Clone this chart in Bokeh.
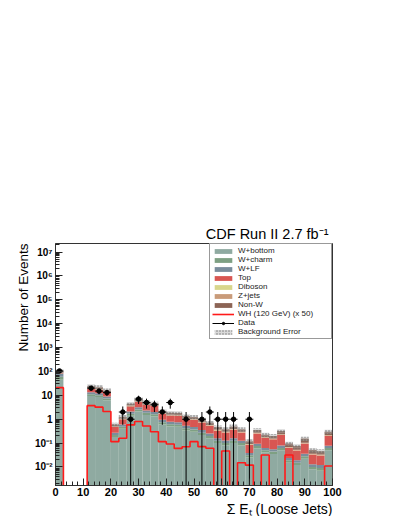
import numpy as np
from bokeh.plotting import figure
from bokeh.models import (ColumnDataSource, FixedTicker, CustomJSTickFormatter, Title,
                          Legend, LegendItem, Range1d)
from bokeh.embed import file_html
from bokeh.resources import INLINE

# ---------------- data ----------------
x_min, x_max, n_bins = 0.0, 100.0, 35

w_bottom = [45, 0, 0, 0, 9.4, 8.5, 6.2, 0.18, 0.4, 1.4, 2.1, 1.5, 1.3, 0.6, 0.5, 0.48, 0.34, 0.3,
            0.22, 0.16, 0.1, 0.08, 0.1, 0.08, 0.025, 0.06, 0.04, 0.035, 0.05, 0.015, 0.012, 0.022,
            0.008, 0.007, 0.05]
w_charm = [15, 0, 0, 0, 1.6, 1.5, 1.1, 0.04, 0.08, 0.3, 0.45, 0.35, 0.3, 0.14, 0.12, 0.11, 0.08, 0.07,
           0.05, 0.04, 0.025, 0.02, 0.025, 0.02, 0.006, 0.015, 0.01, 0.009, 0.013, 0.004, 0.003, 0.006,
           0.002, 0.002, 0.012]
w_lf = [20, 0, 0, 0, 2.5, 2.3, 1.7, 0.05, 0.12, 0.4, 0.6, 0.45, 0.4, 0.2, 0.16, 0.15, 0.11, 0.1,
        0.08, 0.05, 0.035, 0.03, 0.035, 0.025, 0.008, 0.02, 0.013, 0.011, 0.017, 0.005, 0.004, 0.008,
        0.003, 0.003, 0.016]
top = [4, 0, 0, 0, 5.0, 4.8, 3.5, 0.2, 0.4, 1.4, 2.2, 1.7, 1.6, 0.75, 0.65, 0.65, 0.5, 0.47,
       0.38, 0.28, 0.18, 0.15, 0.2, 0.15, 0.045, 0.16, 0.1, 0.09, 0.14, 0.04, 0.03, 0.06,
       0.02, 0.018, 0.12]
diboson = [1, 0, 0, 0, 0.5, 0.5, 0.35, 0.01, 0.03, 0.1, 0.15, 0.12, 0.1, 0.05, 0.04, 0.04, 0.03, 0.03,
           0.02, 0.015, 0.01, 0.008, 0.01, 0.008, 0.003, 0.005, 0.004, 0.003, 0.005, 0.002, 0.001, 0.002,
           0.001, 0.001, 0.006]
z_jets = [3, 0, 0, 0, 1.0, 0.9, 0.65, 0.02, 0.05, 0.2, 0.3, 0.2, 0.2, 0.1, 0.08, 0.07, 0.05, 0.05,
          0.04, 0.03, 0.02, 0.015, 0.02, 0.015, 0.005, 0.01, 0.008, 0.007, 0.01, 0.003, 0.003, 0.005,
          0.002, 0.002, 0.012]
non_w = [17, 0, 0, 0, 4.0, 3.5, 2.5, 0.1, 0.17, 0.6, 0.9, 0.7, 0.6, 0.31, 0.3, 0.3, 0.24, 0.23,
         0.18, 0.135, 0.09, 0.077, 0.11, 0.082, 0.028, 0.08, 0.05, 0.045, 0.085, 0.027, 0.022, 0.052,
         0.015, 0.013, 0.084]
wh_signal_x50 = [21, 0, 0, 0, 3.7, 3.2, 2.1, 0.115, 0.16, 0.58, 0.8, 0.52, 0.3, 0.115, 0.092, 0.06, 0.07,
                 0.115, 0.071, 0.061, 0, 0.047, 0, 0.015, 0.012, 0, 0.032, 0, 0, 0.032, 0, 0, 0, 0, 0.011]
data_counts = [105, 0, 0, 0, 20, 15, 13, 0, 2, 1, 7, 5, 4, 2, 5, 0, 1, 0, 1, 2, 1, 1, 1, 0, 1,
               0, 0, 0, 0, 0, 0, 0, 0, 0, 0]
bkg_rel_err = 0.2

bkg_names = ["W+bottom", "W+charm", "W+LF", "Top", "Diboson", "Z+jets", "Non-W"]
bkg_values = [w_bottom, w_charm, w_lf, top, diboson, z_jets, non_w]
bkg_colors = ["#8faaa1", "#7ea083", "#7a8d9c", "#d85652", "#d8d68c", "#c99b7a", "#8c6455"]

x_tick_values = [0, 10, 20, 30, 40, 50, 60, 70, 80, 90, 100]
y_tick_values = [1e-2, 1e-1, 1, 10, 1e2, 1e3, 1e4, 1e5, 1e6, 1e7]

title_text = "CDF Run II  2.7 fb\u207b\u00b9"
x_title = "\u03a3 E\u209c (Loose Jets)"
y_title = "Number of Events"

# ---------------- derived ----------------
edges = np.linspace(x_min, x_max, n_bins + 1)
left, right = edges[:-1], edges[1:]
centers = 0.5 * (left + right)
TINY = 1e-9
FONT = "Liberation Sans"

p = figure(width=399, height=516, x_range=Range1d(0, 100), y_range=Range1d(0.00168, 2.27e7),
           y_axis_type="log", output_backend="svg", toolbar_location=None,
           min_border_left=55, min_border_right=67, min_border_top=243, min_border_bottom=31)
p.background_fill_color = "white"
p.border_fill_color = "white"
p.outline_line_color = "#333333"
p.outline_line_width = 1
p.xgrid.grid_line_color = None
p.ygrid.grid_line_color = None

cum = np.zeros(n_bins)
stack_renderers = []
for name, vals, col in zip(bkg_names, bkg_values, bkg_colors):
    v = np.array(vals, dtype=float)
    bottom = np.where(cum > 0, cum, TINY)
    topv = np.where(cum + v > 0, cum + v, TINY)
    src = ColumnDataSource(dict(left=left, right=right, bottom=bottom, top=topv))
    r = p.quad(left="left", right="right", bottom="bottom", top="top", source=src,
               fill_color=col, line_color=None)
    stack_renderers.append(r)
    cum = cum + v

total = cum
has_bkg = total > 0
err_src = ColumnDataSource(dict(left=left[has_bkg], right=right[has_bkg],
                                bottom=total[has_bkg] * (1 - bkg_rel_err),
                                top=total[has_bkg] * (1 + bkg_rel_err)))
r_err = p.quad(left="left", right="right", bottom="bottom", top="top", source=err_src,
               fill_color="#aaaaaa", fill_alpha=0.45, line_color=None,
               hatch_pattern=".", hatch_color="#555555", hatch_alpha=0.8, hatch_scale=3, hatch_weight=1)

sig = np.array(wh_signal_x50, dtype=float)
sig_plot = np.where(sig > 0, sig, TINY)
r_sig = p.step(x=edges, y=np.append(sig_plot, sig_plot[-1]), mode="after",
               line_color="#ff1a1a", line_width=1.6)

d = np.array(data_counts, dtype=float)
m = d > 0
err = np.sqrt(d[m])
lo = np.where(d[m] - err > 0, d[m] - err, TINY)
hi = d[m] + err
dsrc = ColumnDataSource(dict(x=centers[m], y=d[m], lo=lo, hi=hi, l=left[m], r=right[m]))
p.segment(x0="x", x1="x", y0="lo", y1="hi", source=dsrc, line_color="black", line_width=1)
r_hbar = p.segment(x0="l", x1="r", y0="y", y1="y", source=dsrc, line_color="black", line_width=1)
r_data = p.scatter(x="x", y="y", source=dsrc, marker="circle", size=4.5,
                   fill_color="black", line_color="black")

# ---------------- axes ----------------
x_minor = [v for v in range(0, 101, 2) if v % 10 != 0]
p.xaxis.ticker = FixedTicker(ticks=x_tick_values, minor_ticks=x_minor)
y_minor = [mnt * 10.0 ** k for k in range(-3, 8) for mnt in range(2, 10)]
p.yaxis.ticker = FixedTicker(ticks=y_tick_values, minor_ticks=y_minor)
p.yaxis.formatter = CustomJSTickFormatter(code="""
const e = Math.round(Math.log10(tick));
const sup = {'-':'\u207b','0':'\u2070','1':'\u00b9','2':'\u00b2','3':'\u00b3','4':'\u2074',
             '5':'\u2075','6':'\u2076','7':'\u2077','8':'\u2078','9':'\u2079'};
if (e == 0) return '1';
if (e == 1) return '10';
return '10' + String(e).split('').map(c => sup[c]).join('');
""")
for ax in (p.xaxis[0], p.yaxis[0]):
    ax.axis_line_color = "#333333"
    ax.major_tick_line_color = "#222222"
    ax.minor_tick_line_color = "#222222"
    ax.major_tick_in = 7
    ax.major_tick_out = 0
    ax.minor_tick_in = 4
    ax.minor_tick_out = 0
    ax.major_label_text_font = FONT
    ax.major_label_text_font_style = "bold"
    ax.major_label_text_color = "black"
    ax.major_label_standoff = 3
p.xaxis.major_label_standoff = 2
p.xaxis.major_label_text_font_size = "11px"
p.yaxis.major_label_text_font_size = "10px"

p.add_layout(Title(text=title_text, align="right", text_font=FONT, text_font_size="14.5px",
                   text_font_style="normal", text_color="black", standoff=4), "above")
p.add_layout(Title(text=y_title, align="right", text_font=FONT, text_font_size="13.5px",
                   text_font_style="normal", text_color="black", standoff=3), "left")
p.add_layout(Title(text=x_title, align="right", text_font=FONT, text_font_size="14px",
                   text_font_style="normal", text_color="black", standoff=0), "below")

# ---------------- legend ----------------
items = [LegendItem(label=n, renderers=[r]) for n, r in zip(bkg_names, stack_renderers)]
items.append(LegendItem(label="WH (120 GeV) (x 50)", renderers=[r_sig]))
items.append(LegendItem(label="Data", renderers=[r_hbar, r_data]))
items.append(LegendItem(label="Background Error", renderers=[r_err]))
legend = Legend(items=items, location="top_right", orientation="vertical",
                label_text_font=FONT, label_text_font_size="8px", label_text_color="#222222",
                glyph_width=22, glyph_height=6, label_height=8, label_standoff=4,
                spacing=0, padding=2, margin=0, label_width=91,
                border_line_color="#333333", border_line_width=1,
                background_fill_color="white", background_fill_alpha=1.0)
p.add_layout(legend)

open("out.html", "w").write(file_html(p, INLINE))
